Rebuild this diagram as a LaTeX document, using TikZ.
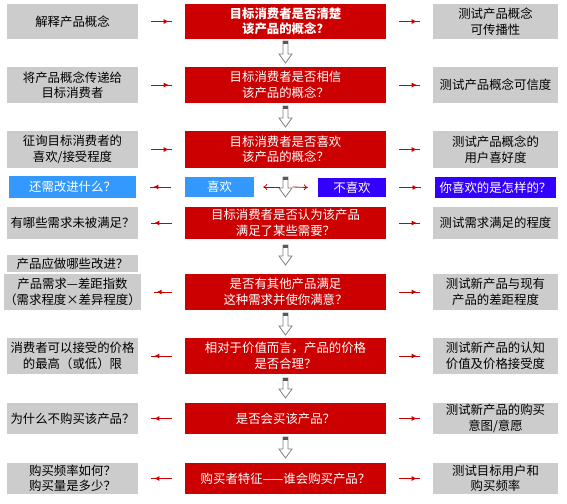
\documentclass[tikz,border=0pt]{standalone}
\usepackage{fontspec}
\setmainfont{Noto Sans CJK SC}
\usetikzlibrary{positioning,arrows.meta,calc}
\usetikzlibrary{decorations.markings}

\definecolor{askred}{HTML}{CC0000}
\definecolor{notegray}{HTML}{CCCCCC}
\definecolor{likeblue}{HTML}{3399FF}
\definecolor{dislikeblue}{HTML}{3300FF}

\tikzset{
  box/.style={inner sep=0pt, align=center, font=\fontsize{12.4}{15.5}\selectfont},
  leftbox/.style={box, fill=notegray, minimum width=131pt},
  rightbox/.style={box, fill=notegray, minimum width=125pt},
  askbox/.style={box, fill=askred, text=white, minimum width=201pt},
  likebox/.style={box, fill=likeblue, text=white},
  dislikebox/.style={box, fill=dislikeblue, text=white},
  flow/.style={askred, line width=0.8pt, postaction={decorate},
    decoration={markings, mark=at position 0.85 with {\arrow{Latex[length=5pt,width=5pt]}}}},
  fork/.style={askred, line width=0.8pt, -{To[length=4pt,width=6pt]}},
}

\begin{document}
\begin{tikzpicture}[x=1pt,y=-1pt]
\useasboundingbox (0,0) rectangle (567,503);

% middle column: the questions
\node[askbox, minimum height=35pt, font=\fontsize{12.4}{15.5}\selectfont\bfseries] (q1) at (285.5,21.5) {目标消费者是否清楚\\该产品的概念？};
\node[askbox, minimum height=36pt] (q2) at (285.5,85)    {目标消费者是否相信\\该产品的概念？};
\node[askbox, minimum height=37pt] (q3) at (285.5,149.5) {目标消费者是否喜欢\\该产品的概念？};
\node[askbox, minimum height=32pt] (q5) at (285.5,223)   {目标消费者是否认为该产品\\满足了某些需要？};
\node[askbox, minimum height=36pt] (q6) at (285.5,292)   {是否有其他产品满足\\这种需求并使你满意？};
\node[askbox, minimum height=36pt] (q7) at (285.5,356)   {相对于价值而言，产品的价格\\是否合理？};
\node[askbox, minimum height=31pt] (q8) at (285.5,418.5) {是否会买该产品？};
\node[askbox, minimum height=31pt] (q9) at (285.5,478.5) {购买者特征——谁会购买产品？};

% like / dislike
\node[likebox, minimum width=69pt, minimum height=20pt] (like) at (219.5,187) {喜欢};
\node[dislikebox, minimum width=68pt, minimum height=19pt] (dislike) at (352,187.5) {不喜欢};
\coordinate (split) at (285.5,187);

% left column
\node[leftbox, minimum height=35pt] (l1) at (72.5,21.5) {解释产品概念};
\node[leftbox, minimum height=36pt] (l2) at (72.5,85)   {将产品概念传递给\\目标消费者};
\node[leftbox, minimum height=37pt] (l3) at (72.5,149.5) {征询目标消费者的\\喜欢/接受程度};
\node[likebox, minimum width=127pt, minimum height=22pt] (l4) at (72.5,187) {还需改进什么？};
\node[leftbox, minimum height=32pt] (l5) at (72.5,223)   {有哪些需求未被满足？};
\node[leftbox, minimum height=17pt] (l6a) at (72.5,263.5) {产品应做哪些改进？};
\node[leftbox, minimum height=36pt] (l6) at (72.5,292)   {产品需求—差距指数\\（需求程度×差异程度）};
\node[leftbox, minimum height=36pt] (l7) at (72.5,356)   {消费者可以接受的价格\\的最高（或低）限};
\node[leftbox, minimum height=31pt] (l8) at (72.5,418.5) {为什么不购买该产品？};
\node[leftbox, minimum height=31pt] (l9) at (72.5,478.5) {购买频率如何？\\购买量是多少？};

% right column
\node[rightbox, minimum height=35pt] (r1) at (495.5,21.5) {测试产品概念\\可传播性};
\node[rightbox, minimum height=36pt] (r2) at (495.5,85)   {测试产品概念可信度};
\node[rightbox, minimum height=37pt] (r3) at (495.5,149.5) {测试产品概念的\\用户喜好度};
\node[dislikebox, minimum width=121pt, minimum height=21pt] (r4) at (495.5,187.5) {你喜欢的是怎样的？};
\node[rightbox, minimum height=32pt] (r5) at (495.5,223)   {测试需求满足的程度};
\node[rightbox, minimum height=36pt] (r6) at (495.5,292)   {测试新产品与现有\\产品的差距程度};
\node[rightbox, minimum height=36pt] (r7) at (495.5,356)   {测试新产品的认知\\价值及价格接受度};
\node[rightbox, minimum height=31pt] (r8) at (495.5,418.5) {测试新产品的购买\\意图/意愿};
\node[rightbox, minimum height=31pt] (r9) at (495.5,478.5) {测试目标用户和\\购买频率};

% hollow down arrows
\foreach \t/\b in {41/63, 106/127, 177/197, 245/265, 313/335, 378/398, 437/458} {
  \draw[gray, fill=white, line width=0.8pt] (283,\t) -- (288,\t) -- (288,\b-9) -- (292,\b-9)
    -- (285.5,\b) -- (279,\b-9) -- (283,\b-9) -- cycle;
  \fill[black!65] (283,\t) rectangle (288,\t+3);
}

% side arrows
\foreach \n in {1,2,3}
  \draw[flow] ([xshift=13pt]l\n.east) -- ([xshift=-13pt]q\n.west);
\foreach \n in {5,6,7,8,9}
  \draw[flow] ([xshift=-13pt]q\n.west) -- ([xshift=13pt]l\n.east);
\foreach \n in {1,2,3,5,6,7,8,9}
  \draw[flow] ([xshift=13pt]q\n.east) -- ([xshift=-13pt]r\n.west);
\draw[flow] ([xshift=-14pt]like.west) -- ([xshift=14pt]l4.east);
\draw[flow] ([xshift=13pt]dislike.east) -- ([xshift=-14pt]r4.west);

\draw[fork] ([xshift=-6pt]split) -- ([xshift=9pt]like.east);
\draw[fork] ([xshift=7pt]split) -- ([xshift=-10pt]dislike.west);

\end{tikzpicture}
\end{document}
